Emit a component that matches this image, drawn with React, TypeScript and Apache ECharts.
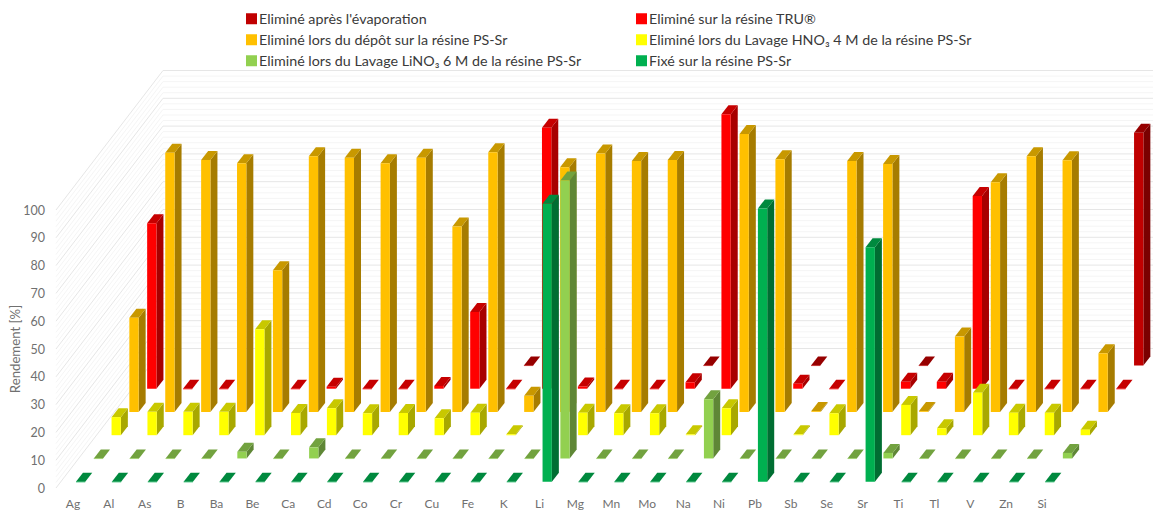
import React, { useEffect, useRef } from "react";
import * as echarts from "echarts";

const elements = ["Ag","Al","As","B","Ba","Be","Ca","Cd","Co","Cr","Cu","Fe","K","Li","Mg","Mn","Mo","Na","Ni","Pb","Sb","Se","Sr","Ti","Tl","V","Zn","Si"];

const fixe =     [0,0,0,0,0,0,0,0,0,0,0,0,0,100,0,0,0,0,0,98.3,0,0,84.3,0,0,0,0,0];
const lavageLi = [0,0,0,0,2.4,0,4,0,0,0,0,0,0,100,0,0,0,21.3,0,0,0,0,2,0,0,0,0,2];
const lavageHn = [6.5,8.4,8.4,8.4,38.1,8,9.7,7.9,8,6.1,8.1,0.3,null,8.1,7.9,7.9,0.3,9.7,null,0.3,7.9,null,10.9,2.5,15.3,8.1,8.1,2];
const depot =    [33.9,93.2,90.6,89.5,51,92,91.4,89.5,91.4,66.7,93.4,5.8,88,93,90.3,90.6,null,100,90.9,0.3,90.3,89.2,0.3,27.1,82.6,92,90.5,21.1];
const tru =      [59.5,0,0,null,0,0.7,0,0,1,27.6,0,93.9,0.8,0,0,2.3,98.7,null,1.8,0,null,2.5,2.5,69.3,0,0,0,0];
const evap =     [null,null,null,null,null,null,null,null,null,null,0,null,null,null,null,0,null,null,0,null,null,0,null,null,null,null,null,83.7];

const wallTicks = [0,2,4,6,8,10,12,14,16,18,20,22,24,26,28,30,32,34,36,38,40,42,44,46,48,50,52,54,56,58,60,62,64,66,68,70,72,74,76,78,80,82,84,86,88,90,92,94,96,98,100];

const names = {
  evap: "Eliminé après l'évaporation",
  tru: "Eliminé sur la résine TRU®",
  depot: "Eliminé lors du dépôt sur la résine PS-Sr",
  hn: "Eliminé lors du Lavage HNO₃ 4 M de la résine PS-Sr",
  li: "Eliminé lors du Lavage LiNO₃ 6 M de la résine PS-Sr",
  fixe: "Fixé sur la résine PS-Sr",
};

const ROW_DX = 17.8;
const ROW_DY = 23.25;
const BAR_W = 9.3;
const DEPTH_X = 7;
const DEPTH_Y = 9;

const bar3d = (row: number, front: string, side: string, top: string) => (params: any, api: any) => {
  const k = api.value(0);
  const v = api.value(1);
  if (v === null || v === undefined || isNaN(v)) return null;
  const p0 = api.coord([k, 0]);
  const pv = api.coord([k, v]);
  const x = p0[0] + 3 + row * ROW_DX;
  const base = p0[1] - 6.3 - row * ROW_DY;
  const t = pv[1] - 6.3 - row * ROW_DY;
  const r = x + BAR_W;
  return {
    type: "group",
    children: [
      { type: "polygon", shape: { points: [[r, base], [r + DEPTH_X, base - DEPTH_Y], [r + DEPTH_X, t - DEPTH_Y], [r, t]] }, style: { fill: side } },
      { type: "polygon", shape: { points: [[x, t], [r, t], [r + DEPTH_X, t - DEPTH_Y], [x + DEPTH_X, t - DEPTH_Y]] }, style: { fill: top } },
      { type: "rect", shape: { x, y: t, width: BAR_W, height: Math.max(base - t, 0.6) }, style: { fill: front } },
    ],
  };
};

const wall = (params: any, api: any) => {
  const v = api.value(1);
  const p = api.coord([0, v]);
  const x0 = params.coordSys.x + 1;
  const major = v % 10 === 0;
  return {
    type: "polyline",
    shape: { points: [[x0, p[1]], [x0 + 107, p[1] - 139.5], [1175, p[1] - 139.5]] },
    style: { fill: "none", stroke: major ? "#e6e6e6" : "#f5f5f5", lineWidth: 1 },
  };
};

const pair = (vals: (number | null)[]) => vals.map((v, i) => [i, v]);

const mk = (name: string, vals: (number | null)[], row: number, front: string, side: string, top: string) => ({
  type: "custom",
  name,
  data: pair(vals),
  encode: { x: 0, y: 1 },
  itemStyle: { color: front },
  renderItem: bar3d(row, front, side, top),
  clip: false,
});

export default function App() {
  const ref = useRef<HTMLDivElement>(null);
  useEffect(() => {
    const chart = echarts.init(ref.current!, null, { renderer: "svg" });
    const font = "Lato, Carlito, sans-serif";
    const legendBase = {
      orient: "vertical",
      top: 11.5,
      padding: 0,
      itemWidth: 11,
      itemHeight: 11,
      itemGap: 6.5,
      icon: "rect",
      selectedMode: false,
      textStyle: { fontFamily: font, fontSize: 14.3, color: "#3a3a3a", lineHeight: 14.5, padding: [0, 0, 0, -3] },
    };
    chart.setOption({
      animation: false,
      backgroundColor: "#ffffff",
      tooltip: { show: false },
      grid: { left: 55, width: 1005, top: 210, height: 278, outerBoundsMode: "none" },
      legend: [
        { ...legendBase, left: 246, data: [names.evap, names.depot, names.li] },
        { ...legendBase, left: 636, data: [names.tru, names.hn, names.fixe] },
      ],
      xAxis: {
        type: "category",
        data: elements,
        axisLine: { show: false },
        axisTick: { show: false },
        axisLabel: { interval: 0, margin: 9, fontFamily: font, fontSize: 12, color: "#707070" },
      },
      yAxis: {
        type: "value",
        min: 0,
        max: 100,
        interval: 10,
        name: "Rendement [%]",
        nameLocation: "middle",
        nameGap: 34,
        nameMoveOverlap: false,
        nameTextStyle: { fontFamily: font, fontSize: 13.2, color: "#707070" },
        axisLine: { show: false },
        axisTick: { show: false },
        splitLine: { show: false },
        axisLabel: { margin: 10, fontFamily: font, fontSize: 12.5, color: "#707070" },
      },
      series: [
        { type: "custom", name: "walls", data: wallTicks.map((v) => [0, v]), encode: { x: 0, y: 1 }, renderItem: wall, clip: false, silent: true },
        mk(names.evap, evap, 5, "#C00000", "#7a0000", "#960000"),
        mk(names.tru, tru, 4, "#FF0000", "#a80000", "#c60000"),
        mk(names.depot, depot, 3, "#FFC000", "#a67c00", "#c89800"),
        mk(names.hn, lavageHn, 2, "#FFFF00", "#a8a800", "#c8c800"),
        mk(names.li, lavageLi, 1, "#92D050", "#5f8736", "#72a23f"),
        mk(names.fixe, fixe, 0, "#00B050", "#006e32", "#00893e"),
      ],
    });
    return () => chart.dispose();
  }, []);
  return <div ref={ref} style={{ position: "absolute", left: 0, top: 0, width: 1153, height: 511 }} />;
}
